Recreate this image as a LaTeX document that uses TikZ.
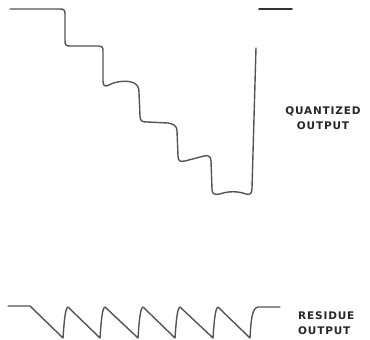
\documentclass[tikz,border=0pt]{standalone}
\usepackage{fontspec}
\usetikzlibrary{calc}
\newfontfamily\labelfont[LetterSpace=8]{DejaVu Sans}
\definecolor{trace}{rgb}{0.33,0.33,0.33}

\begin{document}
\begin{tikzpicture}[x=1pt,y=-1pt]
    \useasboundingbox (0,0) rectangle (370,340);
    \tikzset{wave/.style={draw=trace, line width=1.4pt, line cap=round, line join=round},
             lbl/.style={font=\labelfont\bfseries\fontsize{10.5}{14.5}\selectfont, text=black!85, inner sep=0pt}}
    % Quantized output staircase
    \draw[wave] (10,9) -- (60,9) .. controls (64,9) and (65,10) .. (65,14)
        -- (65,41) .. controls (65,45) and (66,46) .. (70,46)
        -- (99,46) .. controls (102,46) and (103,47) .. (103,51)
        -- (103,81) .. controls (103,86) and (105,87) .. (109,85)
        .. controls (116,81) and (128,80) .. (134,83)
        .. controls (138,85) and (139,88) .. (139,93)
        -- (140,116) .. controls (140,121) and (142,122) .. (147,122)
        -- (168,123) .. controls (174,124) and (177,126) .. (177,131)
        -- (178,156) .. controls (178,161) and (180,162) .. (185,161)
        -- (204,156) .. controls (208,155) and (211,156) .. (211,161)
        -- (212,189) .. controls (212,194) and (214,195) .. (220,194)
        .. controls (228,191) and (238,191) .. (246,194)
        .. controls (250,195) and (252,194) .. (252,188)
        -- (256,48);
    % Reference level
    \draw[wave, draw=black!80, line width=1.7pt] (259,9) -- (292,9);
    % Residue output sawtooth
    \draw[wave] (8,306) -- (30,306) -- (63,338)
        .. controls (64,324) and (65,308) .. (68,307) -- (100,338)
        .. controls (101,324) and (102,308) .. (105,307) -- (138,338)
        .. controls (139,324) and (140,308) .. (143,307) -- (175,338)
        .. controls (176,324) and (177,308) .. (180,307) -- (213,338)
        .. controls (214,324) and (215,308) .. (218,307) -- (250,338)
        .. controls (251,320) and (252,308) .. (258,307) -- (280,307);
    % Labels
    \node[lbl, align=center] (quant) at (323,118) {QUANTIZED\\OUTPUT};
    \node[lbl, align=left, anchor=west] (resid) at (298,323) {RESIDUE\\OUTPUT};
\end{tikzpicture}
\end{document}
